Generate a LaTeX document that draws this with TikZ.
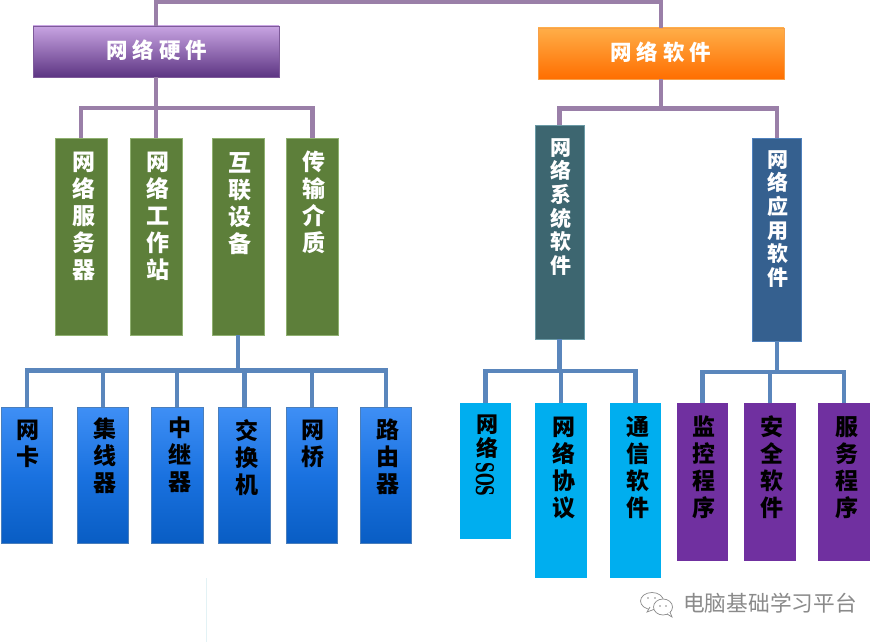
\documentclass[tikz,border=0pt]{standalone}
\usepackage{fontspec}
\usepackage{graphicx}
\setmainfont{Liberation Serif}
\newfontfamily\cjk{Noto Sans CJK SC}
\newfontfamily\sosfont{DejaVu Serif}
\definecolor{connP}{HTML}{9A7FA8}
\definecolor{connB}{HTML}{5A86BC}
\definecolor{HeadE}{HTML}{7E5A9A}
\definecolor{HeadPa}{HTML}{C8A4E2}
\definecolor{HeadPb}{HTML}{9560B8}
\definecolor{HeadPc}{HTML}{5D3583}
\definecolor{OrangeA}{HTML}{FFAE48}
\definecolor{OrangeM}{HTML}{FF8E12}
\definecolor{OrangeC}{HTML}{FF6E00}
\definecolor{OrangeB}{HTML}{F7A04A}
\definecolor{GreenE}{HTML}{8FB070}
\definecolor{GreenF}{HTML}{5D7F3A}
\definecolor{TealE}{HTML}{6A9AA5}
\definecolor{TealF}{HTML}{3D6670}
\definecolor{SteelE}{HTML}{4F81BD}
\definecolor{SteelF}{HTML}{35608F}
\definecolor{GradE}{HTML}{4A7EBB}
\definecolor{GradA}{HTML}{85B5FF}
\definecolor{GradM}{HTML}{3F8FF5}
\definecolor{GradB}{HTML}{1A72E0}
\definecolor{GradC}{HTML}{0052B5}
\definecolor{CyanF}{HTML}{00AEEF}
\definecolor{VioletF}{HTML}{7030A0}
\definecolor{WmGray}{HTML}{8A8A8A}
\definecolor{FaintLine}{HTML}{E3F2F5}
\pgfdeclareverticalshading{gradrow}{100bp}{
  color(0bp)=(GradC);
  color(12bp)=(GradC);
  color(50bp)=(GradB);
  color(75bp)=(GradM);
  color(88bp)=(GradA);
  color(100bp)=(GradA)}
\tikzset{
  x=1pt,y=-1pt,
  boxbase/.style={rectangle,inner sep=0pt,outer sep=0pt,line width=0.9pt},
  purplehead/.style={boxbase,draw=HeadE,top color=HeadPa,middle color=HeadPb,bottom color=HeadPc},
  orangehead/.style={boxbase,draw=OrangeB,top color=OrangeA,middle color=OrangeM,bottom color=OrangeC},
  greenbox/.style={boxbase,draw=GreenE,fill=GreenF},
  tealbox/.style={boxbase,draw=TealE,fill=TealF},
  steelbox/.style={boxbase,draw=SteelE,fill=SteelF},
  gradbox/.style={boxbase,draw=GradE,shading=gradrow},
  cyanbox/.style={boxbase,fill=CyanF},
  violetbox/.style={boxbase,fill=VioletF},
  connA/.style={draw=connP,line width=4.3pt},
  connC/.style={draw=connB,line width=4.2pt},
  vlabel/.style={anchor=north,inner sep=0pt,align=center,font=\cjk\bfseries\fontsize{23}{27}\selectfont,text=#1},
  vlabel/.default=white,
  vtight/.style={anchor=north,inner sep=0pt,align=center,font=\cjk\bfseries\fontsize{22}{24}\selectfont,text=black},
  vsmall/.style={anchor=north,inner sep=0pt,align=center,font=\cjk\bfseries\fontsize{21}{23.7}\selectfont,text=white},
  headlabel/.style={inner sep=0pt,font=\cjk\bfseries\fontsize{21.5}{24}\selectfont,text=white},
  wmtext/.style={anchor=west,inner sep=0pt,font=\cjk\fontsize{21.7}{24}\selectfont,text=WmGray},
  bubble/.style={draw=WmGray,line width=0.7pt,fill=white},
}
\begin{document}
\begin{tikzpicture}
\useasboundingbox (0,0) rectangle (886,642);
\fill[white] (0,0) rectangle (886,642);
\draw[FaintLine,line width=1pt] (206,578) -- (206,642);

% heads
\node[purplehead,minimum width=246pt,minimum height=51pt] (hw) at (156,51.5) {};
\node[orangehead,minimum width=246pt,minimum height=51pt] (sw) at (661,53.5) {};
% green
\node[greenbox,minimum width=52pt,minimum height=197pt] (g1) at (81,236.5) {};
\node[greenbox,minimum width=52pt,minimum height=197pt] (g2) at (156,236.5) {};
\node[greenbox,minimum width=52pt,minimum height=197pt] (g3) at (238,236.5) {};
\node[greenbox,minimum width=52pt,minimum height=197pt] (g4) at (312.5,236.5) {};
% second-level software
\node[tealbox,minimum width=49pt,minimum height=214pt] (ts) at (559.5,232) {};
\node[steelbox,minimum width=49pt,minimum height=203pt] (as) at (777,239.5) {};
% gradient row
\node[gradbox,minimum width=51pt,minimum height=136pt] (b1) at (26.75,475) {};
\node[gradbox,minimum width=51pt,minimum height=136pt] (b2) at (102.75,475) {};
\node[gradbox,minimum width=52pt,minimum height=136pt] (b3) at (177.25,475) {};
\node[gradbox,minimum width=52pt,minimum height=136pt] (b4) at (244.5,475) {};
\node[gradbox,minimum width=51pt,minimum height=136pt] (b5) at (311.75,475) {};
\node[gradbox,minimum width=51pt,minimum height=136pt] (b6) at (385.75,475) {};
% cyan
\node[cyanbox,minimum width=51pt,minimum height=136pt] (c1) at (485.5,471) {};
\node[cyanbox,minimum width=52pt,minimum height=175pt] (c2) at (561,490.5) {};
\node[cyanbox,minimum width=51pt,minimum height=175pt] (c3) at (635.5,490.5) {};
% violet
\node[violetbox,minimum width=51pt,minimum height=158pt] (v1) at (702.5,482) {};
\node[violetbox,minimum width=52pt,minimum height=158pt] (v2) at (770,482) {};
\node[violetbox,minimum width=52pt,minimum height=158pt] (v3) at (844,482) {};

% junctions
\coordinate (topbus) at (400,1.5);
\coordinate (hwbus) at (156,108);
\coordinate (swbus) at (661,108.5);
\coordinate (g3bus) at (238,370.5);
\coordinate (tsbus) at (559.5,371);
\coordinate (asbus) at (777,372);

% connectors
\draw[connA] (hw.north) -- (hw.north |- topbus) -- (sw.north |- topbus) -- (sw.north);
\draw[connA] (hw.south) -- (hwbus);
\draw[connA] (g1.north) |- (hwbus) -| (g4.north);
\draw[connA] (g2.north) -- (g2.north |- hwbus);
\draw[connA] (sw.south) -- (swbus);
\draw[connA] (ts.north) |- (swbus) -| (as.north);

\draw[connC] (g3.south) -- (g3bus);
\draw[connC] (b1.north) |- (g3bus) -| (b6.north);
\draw[connC] (b2.north) -- (b2.north |- g3bus);
\draw[connC] (b3.north) -- (b3.north |- g3bus);
\draw[connC] (b4.north) -- (b4.north |- g3bus);
\draw[connC] (b5.north) -- (b5.north |- g3bus);
\draw[connC] (ts.south) -- (tsbus);
\draw[connC] (c1.north) |- (tsbus) -| (c3.north);
\draw[connC] (c2.north) -- (c2.north |- tsbus);
\draw[connC] (as.south) -- (asbus);
\draw[connC] (v1.north) |- (asbus) -| (v3.north);
\draw[connC] (v2.north) -- (v2.north |- asbus);

% labels
\node[headlabel] (hwt) at (157,50.5) {网\hspace{5pt}络\hspace{5pt}硬\hspace{5pt}件};
\node[headlabel] (swt) at (661,52.5) {网\hspace{5pt}络\hspace{5pt}软\hspace{5pt}件};

\node[vlabel] (g1t) at (84,152) {网\\络\\服\\务\\器};
\node[vlabel] (g2t) at (158,152) {网\\络\\工\\作\\站};
\node[vlabel] (g3t) at (240,152) {互\\联\\设\\备};
\node[vlabel] (g4t) at (314,151) {传\\输\\介\\质};

\node[vsmall] (tst) at (561,138) {网\\络\\系\\统\\软\\件};
\node[vsmall] (ast) at (778,150) {网\\络\\应\\用\\软\\件};

\node[vlabel=black] (b1t) at (28,420) {网\\卡};
\node[vlabel=black] (b2t) at (105,417) {集\\线\\器};
\node[vlabel=black] (b3t) at (180,417) {中\\继\\器};
\node[vlabel=black] (b4t) at (247,419) {交\\换\\机};
\node[vlabel=black] (b5t) at (313,420) {网\\桥};
\node[vlabel=black] (b6t) at (388,419) {路\\由\\器};

\node[vtight] (c1t) at (487,415) {网\\络};
\node[inner sep=0pt] (c1s) at (485,479.5) {\rotatebox{-90}{\resizebox{34pt}{18pt}{\sosfont\bfseries SOS}}};
\node[vlabel=black] (c2t) at (564,417) {网\\络\\协\\议};
\node[vlabel=black] (c3t) at (638,416) {通\\信\\软\\件};

\node[vlabel=black] (v1t) at (704,416) {监\\控\\程\\序};
\node[vlabel=black] (v2t) at (772,416) {安\\全\\软\\件};
\node[vlabel=black] (v3t) at (847,416) {服\\务\\程\\序};

% watermark
\draw[bubble] (652,601) ellipse (11.5 and 8.5);
\draw[bubble] (650,607) -- (647,612) -- (655,609);
\draw[bubble] (663,607) ellipse (9.5 and 8);
\draw[bubble] (667,614) -- (672,617) -- (670,612);
\fill[WmGray] (660,606) circle (0.9) (666,606) circle (0.9) (648,598) circle (0.9) (655,598) circle (0.9);
\node[wmtext] (wm) at (683,603) {电脑基础学习平台};
\end{tikzpicture}
\end{document}
